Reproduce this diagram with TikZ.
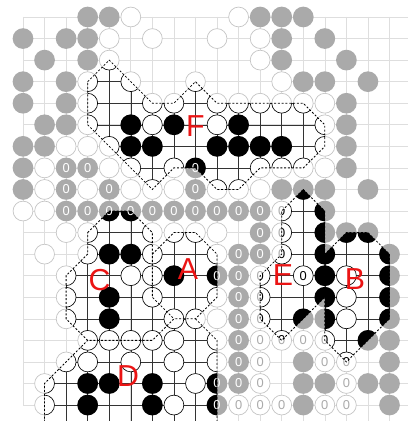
\documentclass[tikz,border=0pt]{standalone}
\usepackage{fontspec}
\setmainfont{Liberation Sans}
\usetikzlibrary{calc}
\definecolor{stoneGray}{RGB}{170,170,170}
\definecolor{rimGray}{RGB}{196,196,196}
\definecolor{gridGray}{RGB}{222,222,222}
\definecolor{tagRed}{RGB}{235,20,20}

% stones as column/row
\def\blackstones{3/0,4/0,11/0,12/0,13/0,0/1,2/1,3/1,12/1,14/1,1/2,3/2,12/2,15/2,
  0/3,2/3,13/3,14/3,16/3,0/4,2/4,15/4,1/5,2/5,5/5,7/5,10/5,15/5,
  0/6,1/6,5/6,6/6,9/6,10/6,11/6,12/6,15/6,0/7,15/7,0/8,12/8,13/8,14/8,16/8,
  14/9,14/10,15/10,16/10,4/11,5/11,14/11,17/11,7/12,14/12,17/12,4/13,14/13,17/13,
  4/14,13/14,14/14,17/14,16/15,17/15,13/16,17/16,3/17,4/17,6/17,13/17,14/17,16/17,17/17,
  3/18,6/18,13/18,17/18}
\def\blackzeros{2/7,3/7,8/7,2/8,4/8,8/8,2/9,3/9,4/9,5/9,6/9,7/9,8/9,9/9,10/9,11/9,
  11/10,10/11,11/11,9/12,10/12,10/13,10/14,10/15,10/16,9/17,10/17,9/18}
\def\whitestones{5/0,10/0,4/1,6/1,9/1,11/1,4/2,11/2,3/3,5/3,8/3,12/3,
  3/4,6/4,7/4,9/4,10/4,11/4,12/4,13/4,14/4,3/5,6/5,9/5,14/5,2/6,3/6,4/6,14/6,
  1/7,4/7,5/7,7/7,11/7,12/7,13/7,14/7,1/8,3/8,5/8,6/8,7/8,9/8,10/8,11/8,0/9,1/9,
  2/10,3/10,6/10,7/10,8/10,9/10,1/11,3/11,6/11,9/11,2/12,5/12,6/12,15/12,
  2/13,6/13,9/13,15/13,2/14,7/14,8/14,9/14,15/14,3/15,4/15,5/15,6/15,7/15,9/15,
  2/16,3/16,5/16,7/16,9/16,1/17,8/17,1/18,7/18}
\def\whitezeros{12/9,12/10,12/11,11/12,13/12,11/13,11/14,11/15,12/15,13/15,14/15,
  11/16,14/16,15/16,11/17,15/17,10/18,11/18,12/18,14/18,15/18}

% regions
\def\regF{(3,-3)--(4,-2)--(6,-4)--(7,-4)--(8,-3)--(9,-4)--(13,-4)--(14,-5)--(14,-6)--(13,-7)
  --(11,-7)--(10,-8)--(9,-8)--(8,-7)--(7,-7)--(6,-8)--(3,-5)--cycle}
\def\regC{(3,-10)--(4,-9)--(5,-9)--(6,-10)--(6,-13)--(7,-14)--(6,-15)--(3,-15)--(2,-14)
  --(2,-12)--(3,-11)--cycle}
\def\regA{(6,-11)--(7,-10)--(8,-10)--(9,-11)--(9,-13)--(8,-14)--(7,-14)--(6,-13)--cycle}
\def\regD{(1,-19)--(1,-17)--(2,-16)--(3,-15)--(6,-15)--(7,-14)--(8,-14)--(9,-15)--(9,-19)--cycle}
\def\regE{(13,-8)--(14,-9)--(14,-13)--(13,-14)--(12,-15)--(11,-14)--(11,-12)--(12,-11)--(12,-9)--cycle}
\def\regB{(14,-11)--(15,-10)--(16,-10)--(17,-11)--(17,-14)--(16,-15)--(15,-16)--(14,-15)--cycle}

\newcommand{\zerofont}{\fontsize{17}{17}\selectfont}
\newcommand{\boardlayer}{%
  \foreach \j in {0,...,18} \draw[ln] (0,-\j) -- (17.9,-\j);
  \draw[ln] (0,0) -- (0,-18);
  \foreach \i in {1,...,17} \draw[ln] (\i,0) -- (\i,-18.8);
  \foreach \i/\j in \blackstones \fill[bk] (\i,-\j) circle (0.48);
  \foreach \i/\j in \blackzeros {\fill[bk] (\i,-\j) circle (0.48);
    \node[zb] at (\i,-\j) {0};}
  \foreach \i/\j in \whitestones \filldraw[wt] (\i,-\j) circle (0.46);
  \foreach \i/\j in \whitezeros {\filldraw[wt] (\i,-\j) circle (0.46);
    \node[zw] at (\i,-\j) {0};}
}

\begin{document}
\begin{tikzpicture}[
    ln/.style={draw=gridGray,line width=0.8pt},
    bk/.style={fill=stoneGray},
    wt/.style={fill=white,draw=rimGray,line width=0.9pt},
    zb/.style={text=white,font=\zerofont,inner sep=0pt},
    zw/.style={text=stoneGray,font=\zerofont,inner sep=0pt},
    full/.style={ln/.style={draw=black!80,line width=0.6pt},
                 bk/.style={fill=black},
                 wt/.style={fill=white,draw=black,line width=0.8pt},
                 zw/.style={text=black,font=\zerofont,inner sep=0pt}},
    bnd/.style={draw=black,line width=1.1pt,dash pattern=on 2.6pt off 2.4pt},
    tag/.style={text=tagRed,font=\fontsize{40}{40}\selectfont,inner sep=0pt}]
  \fill[white] (-1.067,0.788) rectangle (17.857,-18.74);
  \useasboundingbox (-1.067,0.788) rectangle (17.857,-18.74);
  \boardlayer
  \foreach \r in {\regF,\regC,\regA,\regD,\regE,\regB}
    {\begin{scope}[full] \clip \r; \boardlayer \end{scope}}
  % boundaries, shared edges once
  \draw[bnd] \regF;
  \draw[bnd] \regC;
  \draw[bnd] (6,-11)--(7,-10)--(8,-10)--(9,-11)--(9,-13)--(8,-14)--(7,-14);
  \draw[bnd] (1,-18.8)--(1,-17)--(2,-16)--(3,-15);
  \draw[bnd] (8,-14)--(9,-15)--(9,-18.8);
  \draw[bnd] \regE;
  \draw[bnd] (14,-13)--(14,-15)--(15,-16)--(16,-15)--(17,-14)--(17,-11)--(16,-10)--(15,-10)--(14,-11);
  % region letters
  \node[tag] (tagF) at (8,-5.06) {F};
  \node[tag] (tagC) at (3.55,-12.2) {C};
  \node[tag] (tagA) at (7.65,-11.7) {A};
  \node[tag] (tagD) at (4.87,-16.65) {D};
  \node[tag] (tagE) at (12.06,-11.97) {E};
  \node[tag] (tagB) at (15.4,-12.15) {B};
\end{tikzpicture}
\end{document}
